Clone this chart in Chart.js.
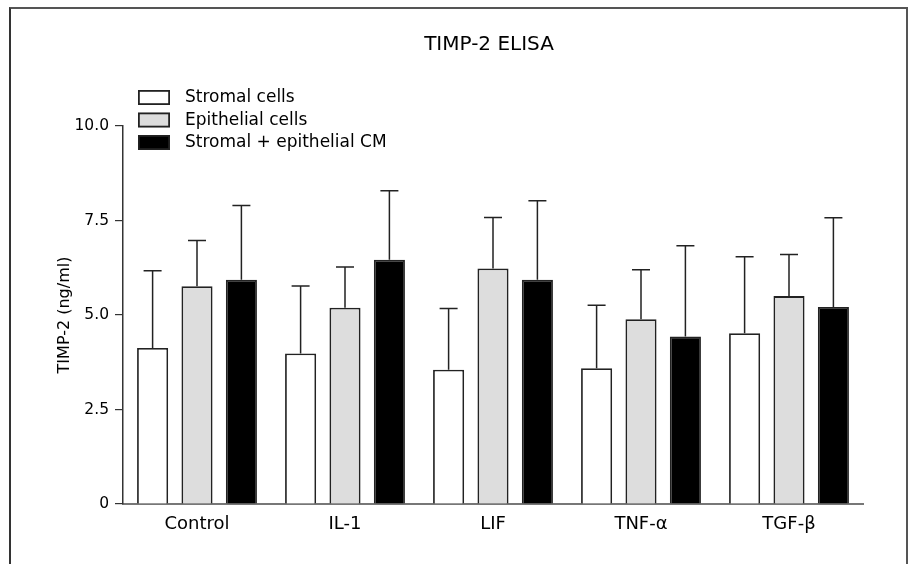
<!DOCTYPE html>
<html>
<head>
<meta charset="utf-8">
<script src="https://cdn.jsdelivr.net/npm/chart.js@4.4.1/dist/chart.umd.min.js"></script>
<style>
  html, body { margin: 0; padding: 0; background: #fff; }
  #wrap { position: relative; width: 911px; height: 564px; overflow: hidden; }
  #frame {
    position: absolute; left: 9px; top: 7px; width: 895px; height: 600px;
    border-left: 2px solid #333; border-top: 2px solid #555; border-right: 2px solid #555;
  }
  canvas { position: absolute; left: 0; top: 0; }
</style>
</head>
<body>
<div id="wrap">
  <div id="frame"></div>
  <canvas id="chart" width="911" height="564"></canvas>
</div>
<script>
const categories = ['Control', 'IL-1', 'LIF', 'TNF-\u03b1', 'TGF-\u03b2'];
const seriesNames = ['Stromal cells', 'Epithelial cells', 'Stromal + epithelial CM'];

// mean TIMP-2 (ng/ml) and SD (upper whisker only)
const stromalMean = [4.13, 3.98, 3.55, 3.59, 4.52];
const stromalSD = [2.04, 1.79, 1.62, 1.67, 2.02];
const epithelialMean = [5.76, 5.19, 6.23, 4.89, 5.50];
const epithelialSD = [1.21, 1.08, 1.35, 1.31, 1.10];
const cmMean = [5.93, 6.46, 5.93, 4.43, 5.21];
const cmSD = [1.97, 1.83, 2.09, 2.40, 2.36];

const yTickLabels = ['0', '2.5', '5.0', '7.5', '10.0'];

Chart.defaults.font.family = 'DejaVu Sans';
Chart.defaults.color = '#000';

// upper error bars, drawn from the bar top
const errorBars = {
  id: 'errorBars',
  afterDatasetsDraw(chart) {
    const { ctx } = chart;
    const y = chart.scales.y;
    ctx.save();
    ctx.strokeStyle = '#222';
    ctx.lineWidth = 1.5;
    chart.data.datasets.forEach((ds, di) => {
      const meta = chart.getDatasetMeta(di);
      meta.data.forEach((bar, i) => {
        const top = y.getPixelForValue(ds.data[i] + ds.errors[i]);
        ctx.beginPath();
        ctx.moveTo(bar.x, bar.y);
        ctx.lineTo(bar.x, top);
        ctx.moveTo(bar.x - 9, top);
        ctx.lineTo(bar.x + 9, top);
        ctx.stroke();
      });
    });
    ctx.restore();
  }
};

// title and stacked legend in the upper left
const figureText = {
  id: 'figureText',
  afterDraw(chart) {
    const { ctx, chartArea } = chart;
    ctx.save();
    ctx.fillStyle = '#000';
    ctx.font = '20px "DejaVu Sans"';
    ctx.textAlign = 'center';
    ctx.textBaseline = 'middle';
    ctx.fillText('TIMP-2 ELISA', (chartArea.left + chartArea.right) / 2 - 4, 45);

    ctx.font = '17px "DejaVu Sans"';
    ctx.textAlign = 'left';
    chart.data.datasets.forEach((ds, i) => {
      const top = 90 + i * 22.5;
      ctx.fillStyle = ds.backgroundColor;
      ctx.fillRect(138, top, 32, 15);
      ctx.strokeStyle = '#222';
      ctx.lineWidth = 1.8;
      ctx.strokeRect(138.9, top + 0.9, 30.2, 13.2);
      ctx.fillStyle = '#000';
      ctx.fillText(ds.label, 185, top + 8);
    });
    ctx.restore();
  }
};

new Chart(document.getElementById('chart'), {
  type: 'bar',
  data: {
    labels: categories,
    datasets: [
      { label: seriesNames[0], data: stromalMean, errors: stromalSD, backgroundColor: '#ffffff' },
      { label: seriesNames[1], data: epithelialMean, errors: epithelialSD, backgroundColor: '#dddddd' },
      { label: seriesNames[2], data: cmMean, errors: cmSD, backgroundColor: '#000000' }
    ]
  },
  options: {
    responsive: false,
    animation: false,
    devicePixelRatio: 1,
    layout: { padding: { left: 0, right: 48, top: 126, bottom: 20 } },
    datasets: {
      bar: {
        borderColor: '#222',
        borderWidth: 1.8,
        categoryPercentage: 0.9,
        barPercentage: 0.7
      }
    },
    plugins: {
      legend: { display: false },
      title: { display: false },
      tooltip: { enabled: false }
    },
    scales: {
      x: {
        grid: { display: false, drawTicks: false },
        border: { display: true, color: '#777', width: 2 },
        ticks: { padding: 10, font: { size: 18 }, color: '#000' },
        afterFit(scale) { scale.height = 40; }
      },
      y: {
        min: 0,
        max: 10,
        ticks: {
          stepSize: 2.5,
          padding: 6,
          font: { size: 15.5 },
          color: '#000',
          callback: (v, i) => yTickLabels[i]
        },
        grid: { drawOnChartArea: false, drawTicks: true, tickLength: 8, color: '#333', lineWidth: 1.2 },
        border: { display: true, color: '#333', width: 1.5 },
        title: {
          display: true,
          text: 'TIMP-2 (ng/ml)',
          font: { size: 16 },
          color: '#000',
          padding: { top: 55, bottom: 0 }
        },
        afterFit(scale) { scale.width = 123; }
      }
    }
  },
  plugins: [errorBars, figureText]
});
</script>
</body>
</html>
